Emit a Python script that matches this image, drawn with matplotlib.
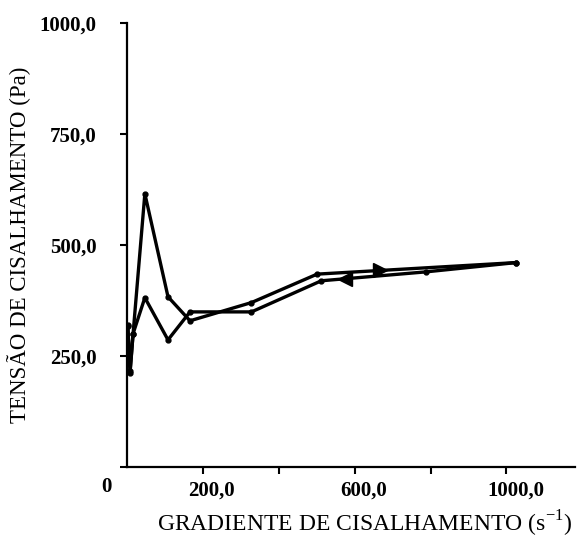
import matplotlib
matplotlib.use("Agg")
import matplotlib.pyplot as plt
import matplotlib.transforms as mtransforms
import numpy as np

# shear rate (1/s) and shear stress (Pa), increasing and decreasing sweeps
rate_up = [2, 8, 16, 47, 108, 166, 328, 501, 1026]
stress_up = [320, 212, 300, 615, 383, 329, 370, 434, 460]

rate_down = [1026, 787, 512, 328, 166, 108, 47, 16, 8, 2]
stress_down = [460, 439, 419, 349, 349, 286, 381, 300, 215, 318]

xticks = [200, 400, 600, 800, 1000]
xtick_labels = ["200,0", "", "600,0", "", "1000,0"]
yticks = [0, 250, 500, 750, 1000]
ytick_labels = ["0", "250,0", "500,0", "750,0", "1000,0"]

plt.rcParams["font.family"] = ["Liberation Serif", "DejaVu Serif"]

fig = plt.figure(figsize=(5.8, 5.38), dpi=100)
ax = fig.add_axes([0.219, 0.132, 0.772, 0.826])

ax.plot(rate_up, stress_up, color="black", lw=2.4, marker="o", ms=3.5)
ax.plot(rate_down, stress_down, color="black", lw=2.4, marker="o", ms=3.5)

# direction arrows on each branch
xa_up = 666
ax.plot(xa_up, np.interp(xa_up, rate_up, stress_up), marker=">",
        color="black", ms=10)
xa_dn = 574
ax.plot(xa_dn, np.interp(xa_dn, rate_down[::-1], stress_down[::-1]),
        marker="<", color="black", ms=10)

ax.set_xlim(0, 1180)
ax.set_ylim(0, 1000)
ax.spines["top"].set_visible(False)
ax.spines["right"].set_visible(False)
ax.spines["left"].set_linewidth(1.6)
ax.spines["bottom"].set_linewidth(1.6)

ax.set_xticks(xticks)
ax.set_xticklabels(xtick_labels, fontsize=15, fontweight="bold")
ax.set_yticks(yticks)
ax.set_yticklabels(ytick_labels, fontsize=15, fontweight="bold")
ax.tick_params(axis="both", direction="out", length=5, width=1.5)
ax.tick_params(axis="x", pad=5)
ax.tick_params(axis="y", pad=17)

# x labels sit a bit right of their ticks, the 0 sits below the axis corner
for lab in ax.get_xticklabels():
    lab.set_transform(lab.get_transform() +
                      mtransforms.ScaledTranslation(0.09, 0, fig.dpi_scale_trans))
ylabs = ax.get_yticklabels()
ylabs[0].set_transform(ylabs[0].get_transform() +
                       mtransforms.ScaledTranslation(0.15, -0.18, fig.dpi_scale_trans))

ax.set_xlabel("GRADIENTE DE CISALHAMENTO (s$^{\\mathregular{-1}}$)", fontsize=17)
ax.xaxis.set_label_coords(0.53, -0.095)
ax.set_ylabel("TENSÃO DE CISALHAMENTO (Pa)", fontsize=16.5, labelpad=6)

fig.savefig("out.png", dpi=100)
